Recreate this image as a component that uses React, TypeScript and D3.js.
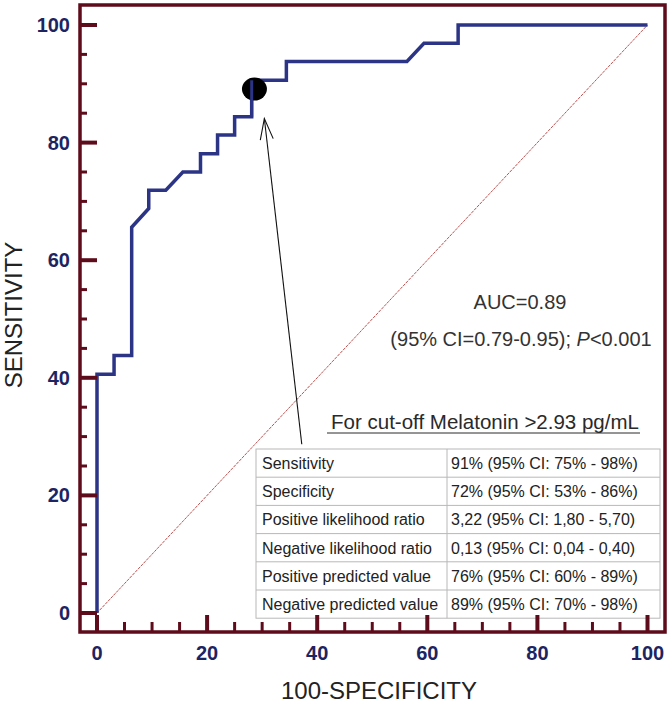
import * as d3 from "d3";
import React from "react";

// ROC curve steps (100-specificity, sensitivity)
const fpr = [0, 0, 3.1, 3.1, 6.3, 6.3, 9.4, 9.4, 12.5, 15.6, 18.8, 18.8, 21.9, 21.9, 25, 25, 28.1, 28.1, 34.4, 34.4, 56.3, 59.4, 65.6, 65.6, 100];
const tpr = [0, 40.6, 40.6, 43.8, 43.8, 65.6, 68.8, 71.9, 71.9, 75, 75, 78.1, 78.1, 81.3, 81.3, 84.4, 84.4, 90.6, 90.6, 93.8, 93.8, 96.9, 96.9, 100, 100];

const cutoffPoint = [28.6, 89.1];
const arrowFrom = [37.2, 28.7];
const arrowTo = [30.4, 84.1];

const tickValues = [0, 20, 40, 60, 80, 100];

const tableTitle = "For cut-off Melatonin >2.93 pg/mL";
const rowLabels = [
  "Sensitivity",
  "Specificity",
  "Positive likelihood ratio",
  "Negative likelihood ratio",
  "Positive predicted value",
  "Negative predicted value",
];
const rowValues = [
  "91% (95% CI: 75% - 98%)",
  "72% (95% CI: 53% - 86%)",
  "3,22 (95% CI: 1,80 - 5,70)",
  "0,13 (95% CI: 0,04 - 0,40)",
  "76% (95% CI: 60% - 89%)",
  "89% (95% CI: 70% - 98%)",
];

const W = 670;
const H = 708;
const frame = { left: 80, top: 5, right: 665, bottom: 632 };
const maroon = "#5e0c1b";
const navy = "#2c3585";
const labelNavy = "#1d2462";

export default function App() {
  const x = d3.scaleLinear().domain([0, 100]).range([97, 647.5]);
  const y = d3.scaleLinear().domain([0, 100]).range([613, 25]);

  const line = d3
    .line<number>()
    .x((_, i) => x(fpr[i]))
    .y((_, i) => y(tpr[i]));

  const minor = d3.range(0, 101, 5);

  // arrow head
  const ax1 = x(arrowFrom[0]), ay1 = y(arrowFrom[1]);
  const ax2 = x(arrowTo[0]), ay2 = y(arrowTo[1]);
  const ang = Math.atan2(ay2 - ay1, ax2 - ax1);
  const hl = 22, ha = 0.3;
  const head = `M${ax2 - hl * Math.cos(ang - ha)},${ay2 - hl * Math.sin(ang - ha)}L${ax2},${ay2}L${ax2 - hl * Math.cos(ang + ha)},${ay2 - hl * Math.sin(ang + ha)}`;

  const tLeft = 256, tMid = 447, tRight = 660, tTop = 449, rowH = 28.2;

  return (
    <svg width={W} height={H} style={{ position: "absolute", left: 0, top: 0, background: "#fff" }} fontFamily="'Liberation Sans', Arial, sans-serif">
      {/* diagonal reference */}
      <line x1={x(0)} y1={y(0)} x2={x(100)} y2={y(100)} stroke="#c0504e" strokeWidth={1} strokeDasharray="3 1" />

      {/* ROC curve */}
      <path d={line(fpr) || ""} fill="none" stroke={navy} strokeWidth={3.5} strokeLinejoin="miter" />

      {/* cut-off point */}
      <ellipse cx={x(cutoffPoint[0])} cy={y(cutoffPoint[1])} rx={12.5} ry={11.5} fill="#000" />
      <line x1={x(28.1)} x2={x(28.1)} y1={y(84.4)} y2={y(90.6)} stroke={navy} strokeWidth={3} />

      {/* arrow */}
      <line x1={ax1} y1={ay1} x2={ax2} y2={ay2} stroke="#111" strokeWidth={1.1} />
      <path d={head} fill="none" stroke="#111" strokeWidth={1.1} />

      {/* AUC text */}
      <text x={520} y={309} textAnchor="middle" fontSize={20} fill="#333">AUC=0.89</text>
      <text x={521} y={346} textAnchor="middle" fontSize={20} fill="#333">
        (95% CI=0.79-0.95); <tspan fontStyle="italic">P</tspan>&lt;0.001
      </text>

      {/* table */}
      <text x={(tLeft + tRight) / 2 + 27} y={428.5} textAnchor="middle" fontSize={20.5} fill="#2a2a2a">
        {tableTitle}
      </text>
      <line x1={327} x2={640} y1={433} y2={433} stroke="#2a2a2a" strokeWidth={1} />
      <rect x={tLeft} y={tTop} width={tRight - tLeft} height={rowH * rowLabels.length} fill="#fff" stroke="#b8b8b8" strokeWidth={1} />
      {rowLabels.map((lab, i) => (
        <g key={lab}>
          {i > 0 && <line x1={tLeft} x2={tRight} y1={tTop + i * rowH} y2={tTop + i * rowH} stroke="#b8b8b8" strokeWidth={1} />}
          <text x={tLeft + 6} y={tTop + i * rowH + 20} fontSize={16} fill="#222">{lab}</text>
          <text x={tMid + 4} y={tTop + i * rowH + 20} fontSize={16} fill="#222">{rowValues[i]}</text>
        </g>
      ))}
      <line x1={tMid} x2={tMid} y1={tTop} y2={tTop + rowH * rowLabels.length} stroke="#b8b8b8" strokeWidth={1} />

      {/* frame */}
      <rect x={frame.left} y={frame.top} width={frame.right - frame.left} height={frame.bottom - frame.top} fill="none" stroke={maroon} strokeWidth={3.5} />

      {/* y ticks */}
      {minor.map((v) => {
        const major = v % 20 === 0;
        return <line key={"y" + v} x1={frame.left} x2={frame.left + (major ? 17 : 7)} y1={y(v)} y2={y(v)} stroke={maroon} strokeWidth={major ? 4 : 3} />;
      })}
      {/* x ticks */}
      {minor.map((v) => {
        const major = v % 20 === 0;
        return <line key={"x" + v} x1={x(v)} x2={x(v)} y1={frame.bottom} y2={frame.bottom - (major ? 17 : 10)} stroke={maroon} strokeWidth={major ? 4 : 3} />;
      })}

      {/* tick labels */}
      {tickValues.map((v) => (
        <text key={"yl" + v} x={70} y={y(v) + 7} textAnchor="end" fontSize={20} fontWeight="bold" fill={labelNavy}>{v}</text>
      ))}
      {tickValues.map((v) => (
        <text key={"xl" + v} x={x(v)} y={660} textAnchor="middle" fontSize={20} fontWeight="bold" fill={labelNavy}>{v}</text>
      ))}

      {/* axis titles */}
      <text x={379} y={699} textAnchor="middle" fontSize={24} fill="#222">100-SPECIFICITY</text>
      <text transform="translate(22,315) rotate(-90)" textAnchor="middle" fontSize={24} fill="#222">SENSITIVITY</text>
    </svg>
  );
}
